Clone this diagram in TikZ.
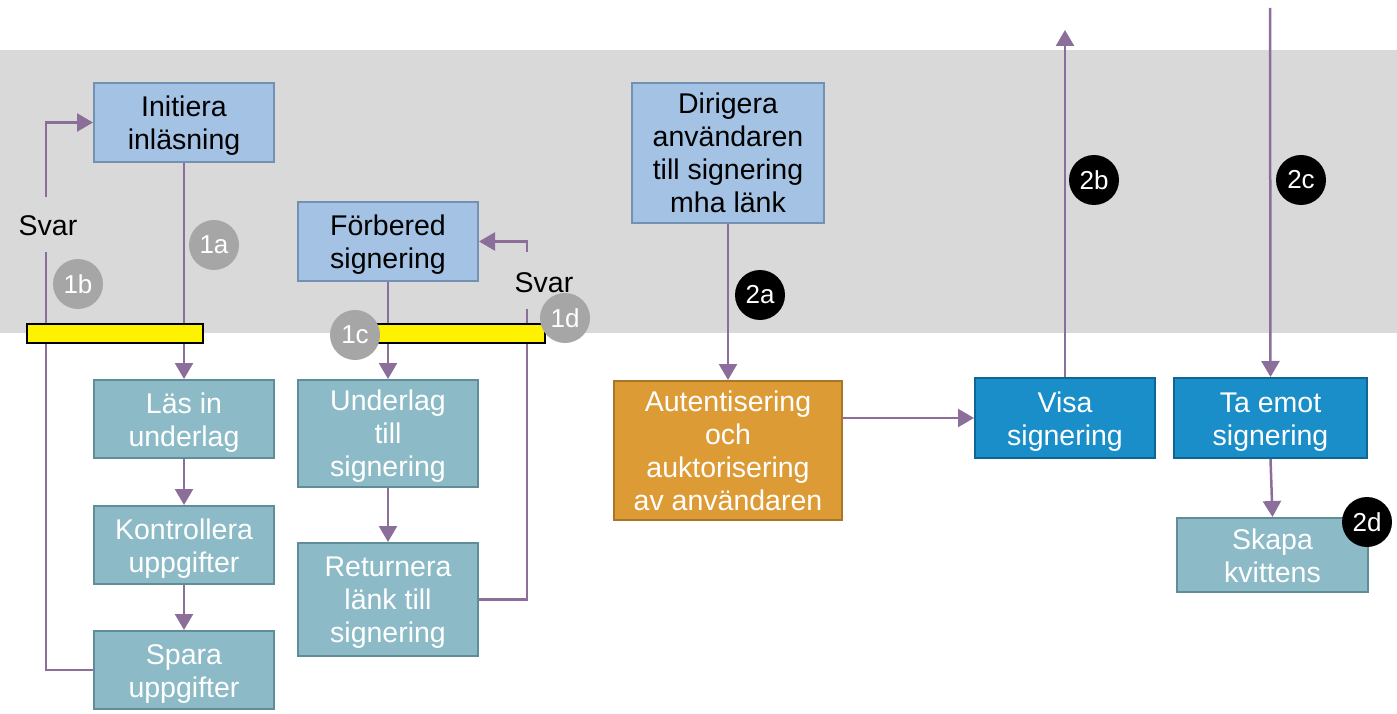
\documentclass[tikz,border=0pt]{standalone}
\usepackage{fontspec}
\setmainfont{Liberation Sans}
\usetikzlibrary{arrows.meta}
\definecolor{band}{HTML}{D9D9D9}
\definecolor{lbfill}{HTML}{A4C2E4}
\definecolor{lbdraw}{HTML}{7391B3}
\definecolor{tlfill}{HTML}{8CBBC7}
\definecolor{tldraw}{HTML}{5F8D98}
\definecolor{orfill}{HTML}{DD9B36}
\definecolor{ordraw}{HTML}{A97628}
\definecolor{blfill}{HTML}{198EC8}
\definecolor{bldraw}{HTML}{0F6594}
\definecolor{conncol}{HTML}{8C6E9A}
\definecolor{circgray}{HTML}{A6A6A6}
\tikzset{
  box/.style={draw, line width=2pt, align=center, inner sep=0pt,
    font=\fontsize{28.5}{33}\selectfont, text depth=0pt, text height=54pt},
  three/.style={text height=85pt},
  four/.style={text height=119.5pt},
  lightbox/.style={box, fill=lbfill, draw=lbdraw, text=black},
  tealbox/.style={box, fill=tlfill, draw=tldraw, text=white},
  orangebox/.style={box, fill=orfill, draw=ordraw, text=white},
  bluebox/.style={box, fill=blfill, draw=bldraw, text=white},
  conn/.style={draw=conncol, line width=2.5pt},
  arr/.style={conn, -{Triangle[length=16pt,width=18pt]}},
  bar/.style={draw=black, line width=2pt, fill=yellow, inner sep=0pt},
  graycirc/.style={circle, fill=circgray, text=white, minimum size=50pt, inner sep=0pt,
    font=\fontsize{26}{30}\selectfont},
  blackcirc/.style={circle, fill=black, text=white, minimum size=50pt, inner sep=0pt,
    font=\fontsize{26}{30}\selectfont},
  svarlbl/.style={text=black, inner sep=0pt, font=\fontsize{28.5}{33}\selectfont}
}
\begin{document}
\begin{tikzpicture}[x=1pt,y=-1pt]
\useasboundingbox (0,0) rectangle (1397,714);
\fill[band] (0,50) rectangle (1397,333);

% boxes
\node[lightbox, minimum width=180pt, minimum height=79pt] (ini) at (184,122.5) {Initiera\\inläsning};
\node[tealbox, minimum width=180pt, minimum height=78pt] (las) at (184,419) {Läs in\\underlag};
\node[tealbox, minimum width=180pt, minimum height=78pt] (kon) at (184,545) {Kontrollera\\uppgifter};
\node[tealbox, minimum width=180pt, minimum height=78pt] (spa) at (184,670) {Spara\\uppgifter};
\node[lightbox, minimum width=180pt, minimum height=79pt] (forb) at (388,241.5) {Förbered\\signering};
\node[tealbox, three, minimum width=180pt, minimum height=107pt] (und) at (388,433.5) {Underlag\\till\\signering};
\node[tealbox, three, minimum width=180pt, minimum height=113pt] (ret) at (388,599.5) {Returnera\\länk till\\signering};
\node[lightbox, four, minimum width=192pt, minimum height=140pt] (dir) at (728,153) {Dirigera\\användaren\\till signering\\mha länk};
\node[orangebox, four, minimum width=228pt, minimum height=139pt] (aut) at (728,450.5) {Autentisering\\och\\auktorisering\\av användaren};
\node[bluebox, minimum width=180pt, minimum height=80pt] (visa) at (1065,418) {Visa\\signering};
\node[bluebox, minimum width=193pt, minimum height=80pt] (ta) at (1270.5,418) {Ta emot\\signering};
\node[tealbox, minimum width=191pt, minimum height=74pt] (skapa) at (1272.5,555) {Skapa\\kvittens};

% Svar labels and gap coordinates
\node[svarlbl] (svar1) at (48,226) {Svar};
\node[svarlbl] (svar2) at (544,283) {Svar};
\coordinate (s1top) at (46,197);
\coordinate (s1bot) at (46,252);
\coordinate (s2top) at (527,252);
\coordinate (s2bot) at (527,309);
\coordinate (visaup) at (1065,30);
\coordinate (tadown) at (1270,8);

% connectors
\draw[arr] (ini) -- (las);
\draw[arr] (las) -- (kon);
\draw[arr] (kon) -- (spa);
\draw[conn] (spa.west) -| (s1bot);
\draw[arr] (s1top) |- (ini.west);
\draw[arr] (forb) -- (und);
\draw[arr] (und) -- (ret);
\draw[conn] (ret.east) -| (s2bot);
\draw[arr] (s2top) |- (forb.east);
\draw[arr] (dir) -- (aut);
\draw[arr] (aut.east |- visa.west) -- (visa.west);
\draw[arr] (visa.north) -- (visaup);
\draw[arr] (tadown) -- (ta.north);
\draw[arr] (ta.south) -- (skapa.north);

% yellow bars
\node[bar, minimum width=176pt, minimum height=19pt] (bar1) at (115,333.5) {};
\node[bar, minimum width=193pt, minimum height=19pt] (bar2) at (448.5,333.5) {};

% step markers
\node[graycirc] (c1a) at (214,245) {1a};
\node[graycirc] (c1b) at (78,284) {1b};
\node[graycirc] (c1c) at (355,335) {1c};
\node[graycirc] (c1d) at (565,318) {1d};
\node[blackcirc] (c2a) at (760,295) {2a};
\node[blackcirc] (c2b) at (1094,180) {2b};
\node[blackcirc] (c2c) at (1301,180) {2c};
\node[blackcirc] (c2d) at (1367,522) {2d};
\end{tikzpicture}
\end{document}
